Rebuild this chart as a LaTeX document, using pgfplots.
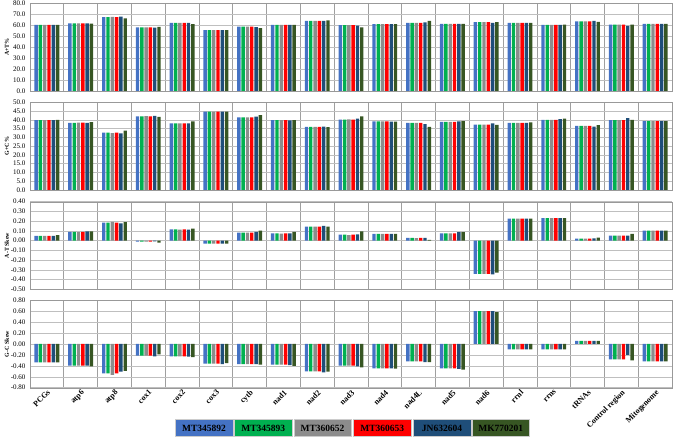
\documentclass[border=0pt]{standalone}
\usepackage{fontspec}
\setmainfont{Liberation Serif}
\usepackage{pgfplots}
\usepackage{pgfplotstable}
\pgfplotsset{compat=1.18}

\definecolor{c1}{HTML}{4472C4}
\definecolor{c2}{HTML}{00B050}
\definecolor{c3}{HTML}{8C8C8C}
\definecolor{c4}{HTML}{FF0000}
\definecolor{c5}{HTML}{1F4E79}
\definecolor{c6}{HTML}{375623}

% rows: PCGs atp6 atp8 cox1 cox2 cox3 cytb nad1 nad2 nad3 nad4 nad4L nad5 nad6 rrnl rrns tRNAs CR Mitogenome
\pgfplotstableread{
s1 s2 s3 s4 s5 s6
60.3 60.3 60.3 60.3 60.3 60.3
61.7 61.7 61.7 61.7 61.7 61.4
67.4 67.4 67.5 67.4 67.7 66.2
58.0 58.0 57.9 58.0 57.8 58.4
62.1 62.1 62.1 62.1 62.1 61.0
55.5 55.5 55.5 55.5 55.5 55.5
58.6 58.6 58.6 58.6 58.3 57.3
60.3 60.3 60.3 60.3 60.2 60.2
64.0 64.0 64.0 64.0 64.0 64.3
60.0 60.0 60.0 60.0 59.5 57.9
61.0 61.0 61.0 61.0 61.0 61.0
62.0 62.0 62.0 62.0 62.6 64.0
61.1 61.1 61.1 61.1 61.1 61.1
62.8 62.8 62.8 62.8 62.0 62.8
62.0 62.0 62.0 62.0 62.0 62.0
60.2 60.2 60.2 60.2 60.3 60.4
63.5 63.5 63.5 63.5 64.0 62.9
60.5 60.5 60.5 60.5 59.3 60.5
61.1 61.1 61.1 61.1 61.1 61.1
}\atdata

\pgfplotstableread{
s1 s2 s3 s4 s5 s6
39.8 39.8 39.8 39.8 39.8 39.9
38.3 38.3 38.4 38.4 38.3 38.6
32.6 32.6 32.4 32.6 32.3 33.8
42.0 42.0 42.1 42.0 42.2 41.6
38.0 38.0 38.0 38.0 38.0 39.1
44.6 44.6 44.6 44.6 44.6 44.6
41.4 41.4 41.4 41.4 41.8 42.7
39.8 39.8 39.8 39.8 39.7 39.8
36.0 36.0 36.0 36.0 36.1 35.8
40.1 40.1 40.2 40.1 40.6 42.0
39.1 39.1 39.1 39.1 38.9 38.9
38.2 38.2 38.2 38.2 37.5 35.9
38.8 38.8 38.8 38.8 39.1 39.2
37.3 37.3 37.2 37.2 38.0 37.1
38.2 38.2 38.2 38.2 38.2 38.5
40.0 40.0 40.0 40.0 40.4 40.6
36.5 36.5 36.5 36.5 36.1 37.0
39.8 39.8 39.8 39.8 40.9 40.0
39.2 39.2 39.2 39.2 39.2 39.2
}\gcdata

\pgfplotstableread{
s1 s2 s3 s4 s5 s6
0.048 0.048 0.048 0.048 0.048 0.055
0.090 0.090 0.088 0.090 0.096 0.096
0.185 0.185 0.192 0.185 0.178 0.190
-0.010 -0.010 -0.010 -0.010 -0.008 -0.020
0.116 0.116 0.112 0.116 0.113 0.123
-0.030 -0.030 -0.030 -0.030 -0.030 -0.030
0.082 0.082 0.082 0.082 0.089 0.103
0.075 0.075 0.072 0.075 0.075 0.089
0.144 0.144 0.144 0.144 0.151 0.144
0.062 0.062 0.055 0.062 0.065 0.096
0.068 0.068 0.068 0.068 0.068 0.068
0.027 0.027 0.025 0.027 0.027 0.008
0.075 0.075 0.075 0.075 0.086 0.086
-0.342 -0.342 -0.342 -0.342 -0.348 -0.330
0.225 0.225 0.225 0.225 0.225 0.225
0.230 0.230 0.230 0.230 0.230 0.230
0.020 0.020 0.020 0.020 0.024 0.031
0.051 0.051 0.051 0.051 0.051 0.068
0.103 0.103 0.103 0.103 0.103 0.103
}\atskew

\pgfplotstableread{
s1 s2 s3 s4 s5 s6
-0.335 -0.335 -0.335 -0.335 -0.335 -0.335
-0.396 -0.396 -0.396 -0.396 -0.396 -0.410
-0.540 -0.540 -0.565 -0.540 -0.505 -0.490
-0.213 -0.213 -0.213 -0.213 -0.225 -0.190
-0.225 -0.225 -0.225 -0.225 -0.230 -0.240
-0.360 -0.360 -0.360 -0.360 -0.370 -0.350
-0.370 -0.370 -0.370 -0.370 -0.370 -0.380
-0.380 -0.380 -0.380 -0.380 -0.385 -0.400
-0.500 -0.500 -0.500 -0.500 -0.520 -0.505
-0.396 -0.396 -0.396 -0.396 -0.410 -0.430
-0.445 -0.445 -0.445 -0.445 -0.445 -0.450
-0.320 -0.320 -0.320 -0.320 -0.330 -0.330
-0.445 -0.445 -0.445 -0.445 -0.455 -0.470
0.600 0.600 0.600 0.600 0.600 0.580
-0.100 -0.100 -0.100 -0.100 -0.100 -0.100
-0.100 -0.100 -0.100 -0.100 -0.100 -0.100
0.058 0.058 0.058 0.058 0.058 0.058
-0.280 -0.280 -0.280 -0.280 -0.200 -0.300
-0.320 -0.320 -0.320 -0.320 -0.320 -0.320
}\gcskew

\newcommand\sixbars[1]{%
  \addplot[fill=c1] table[x expr=\coordindex, y=s1]{#1};
  \addplot[fill=c2] table[x expr=\coordindex, y=s2]{#1};
  \addplot[fill=c3] table[x expr=\coordindex, y=s3]{#1};
  \addplot[fill=c4] table[x expr=\coordindex, y=s4]{#1};
  \addplot[fill=c5] table[x expr=\coordindex, y=s5]{#1};
  \addplot[fill=c6] table[x expr=\coordindex, y=s6]{#1};
}

\pgfplotsset{
  panel/.style={
    ybar=0.9pt, bar width=3.4pt,
    scale only axis, width=642pt, height=87.5pt,
    anchor=north west,
    xmin=-0.5, xmax=18.5,
    xtick={0,...,18}, xticklabels={},
    minor x tick num=1,
    xminorgrids, ymajorgrids,
    major tick length=0pt, minor tick length=0pt,
    axis line style={gray!80},
    minor grid style={gray!75, line width=0.6pt},
    major grid style={gray!50, line width=0.5pt},
    every axis plot/.append style={draw=none},
    yticklabel style={font=\fontsize{7}{8}\selectfont, xshift=-1pt},
    ylabel style={font=\bfseries\fontsize{6}{7}\selectfont, at={(axis description cs:-0.036,0.5)}, anchor=center},
    /pgf/number format/assume math mode=true,
    y tick label style={/pgf/number format/fixed, /pgf/number format/zerofill},
  },
}

\begin{document}
\begin{tikzpicture}
\path[use as bounding box] (0,0) rectangle (676pt,-438pt);

\begin{axis}[panel, at={(30pt,-3.3pt)}, ymin=0, ymax=80, ytick={0,10,...,80},
  ylabel={A+T\%}, y tick label style={/pgf/number format/precision=1}]
\sixbars{\atdata}
\end{axis}

\begin{axis}[panel, at={(30pt,-102.3pt)}, ymin=0, ymax=50, ytick={0,5,...,50},
  ylabel={G+C\%}, y tick label style={/pgf/number format/precision=1}]
\sixbars{\gcdata}
\end{axis}

\begin{axis}[panel, at={(30pt,-201.7pt)}, ymin=-0.5, ymax=0.4,
  ytick={-0.5,-0.4,-0.3,-0.2,-0.1,0,0.1,0.2,0.3,0.4},
  ylabel={A-T Skew}, y tick label style={/pgf/number format/precision=2}]
\sixbars{\atskew}
\end{axis}

\begin{axis}[panel, at={(30pt,-300.2pt)}, ymin=-0.8, ymax=0.8,
  ytick={-0.8,-0.6,-0.4,-0.2,0,0.2,0.4,0.6,0.8},
  ylabel={G-C Skew}, y tick label style={/pgf/number format/precision=2},
  xticklabels={PCGs,atp6,atp8,cox1,cox2,cox3,cytb,nad1,nad2,nad3,nad4,nad4L,nad5,nad6,rrnl,rrns,tRNAs,Control region,Mitogenome},
  xticklabel style={font=\bfseries\fontsize{8}{9}\selectfont, rotate=45, anchor=north east, inner sep=1pt}]
\sixbars{\gcskew}
\end{axis}

\begin{scope}[every node/.style={draw=gray!40, minimum width=57.5pt, minimum height=17pt, inner sep=0pt, font=\bfseries\fontsize{9.5}{10}\selectfont}]
\node[fill=c1] at (204pt,-428pt) {MT345892};
\node[fill=c2] at (263.2pt,-428pt) {MT345893};
\node[fill=c3] at (322.5pt,-428pt) {MT360652};
\node[fill=c4] at (382.2pt,-428pt) {MT360653};
\node[fill=c5] at (442pt,-428pt) {JN632604};
\node[fill=c6] at (500.8pt,-428pt) {MK770201};
\end{scope}
\end{tikzpicture}
\end{document}
